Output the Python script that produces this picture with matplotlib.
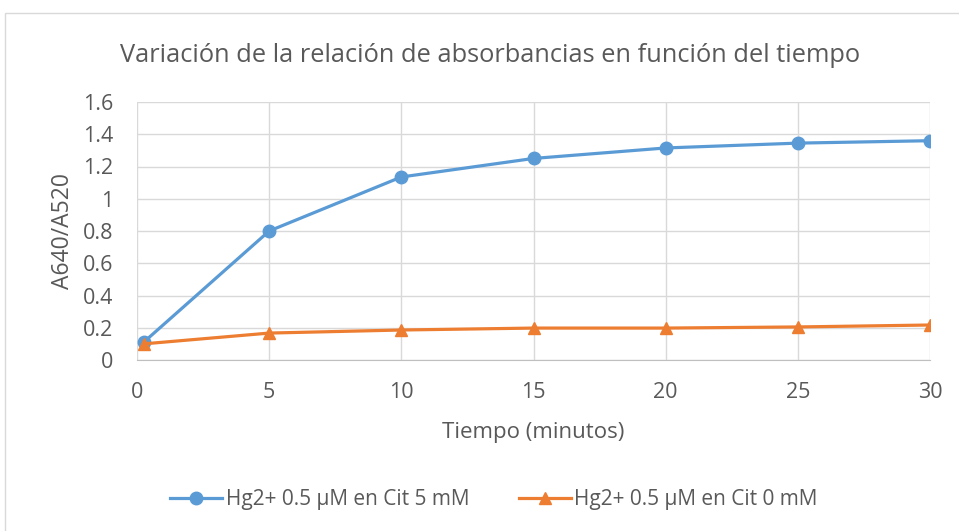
import matplotlib.pyplot as plt
from matplotlib.patches import Rectangle

tiempo = [0.25, 5, 10, 15, 20, 25, 30]
cit5 = [0.11, 0.80, 1.135, 1.25, 1.315, 1.345, 1.36]
cit0 = [0.10, 0.167, 0.186, 0.198, 0.198, 0.205, 0.217]
labels = ["Hg2+ 0.5 μM en Cit 5 mM", "Hg2+ 0.5 μM en Cit 0 mM"]

plt.rcParams['font.family'] = ['Open Sans', 'DejaVu Sans']
gris = '#595959'

fig = plt.figure(figsize=(9.59, 5.31), dpi=100)
fig.patches.append(Rectangle((5/959, -0.1), 1.1, 1 - 13/531 + 0.1, transform=fig.transFigure,
                             fill=False, edgecolor='#D9D9D9', lw=1))
ax = fig.add_axes([137/959, 1 - 360/531, (930 - 137)/959, (360 - 102)/531])

ax.plot(tiempo, cit5, color='#5B9BD5', lw=2.3, marker='o', ms=9, label=labels[0])
ax.plot(tiempo, cit0, color='#ED7D31', lw=2.3, marker='^', ms=9, label=labels[1])

ax.set_xlim(0, 30)
ax.set_ylim(0, 1.6)
ax.set_xticks([0, 5, 10, 15, 20, 25, 30])
ax.set_yticks([0, 0.2, 0.4, 0.6, 0.8, 1, 1.2, 1.4, 1.6])
ax.set_yticklabels(['0', '0.2', '0.4', '0.6', '0.8', '1', '1.2', '1.4', '1.6'])
ax.grid(True, color='#D9D9D9', lw=1)
ax.set_axisbelow(True)
for s in ['top', 'right', 'left']:
    ax.spines[s].set_visible(False)
ax.spines['bottom'].set_color('#BFBFBF')
ax.tick_params(length=0, labelsize=15.5, colors=gris)
ax.tick_params(axis='x', pad=15.5)
ax.tick_params(axis='y', pad=17)

ax.set_xlabel('Tiempo (minutos)', fontsize=16, color=gris, labelpad=14)
ax.set_ylabel('A640/A520', fontsize=16.5, color=gris, labelpad=6)
fig.text(490/959, 1 - 55/531, 'Variación de la relación de absorbancias en función del tiempo',
         ha='center', va='center', fontsize=18.3, color=gris)

fig.legend(loc='center', bbox_to_anchor=(494/959, 1 - 500/531), ncol=2, frameon=False,
           fontsize=15, labelcolor=gris, handlelength=2.5, columnspacing=2.4, handletextpad=0.15,
           markerscale=1.0)

fig.savefig('out.png', dpi=100)
